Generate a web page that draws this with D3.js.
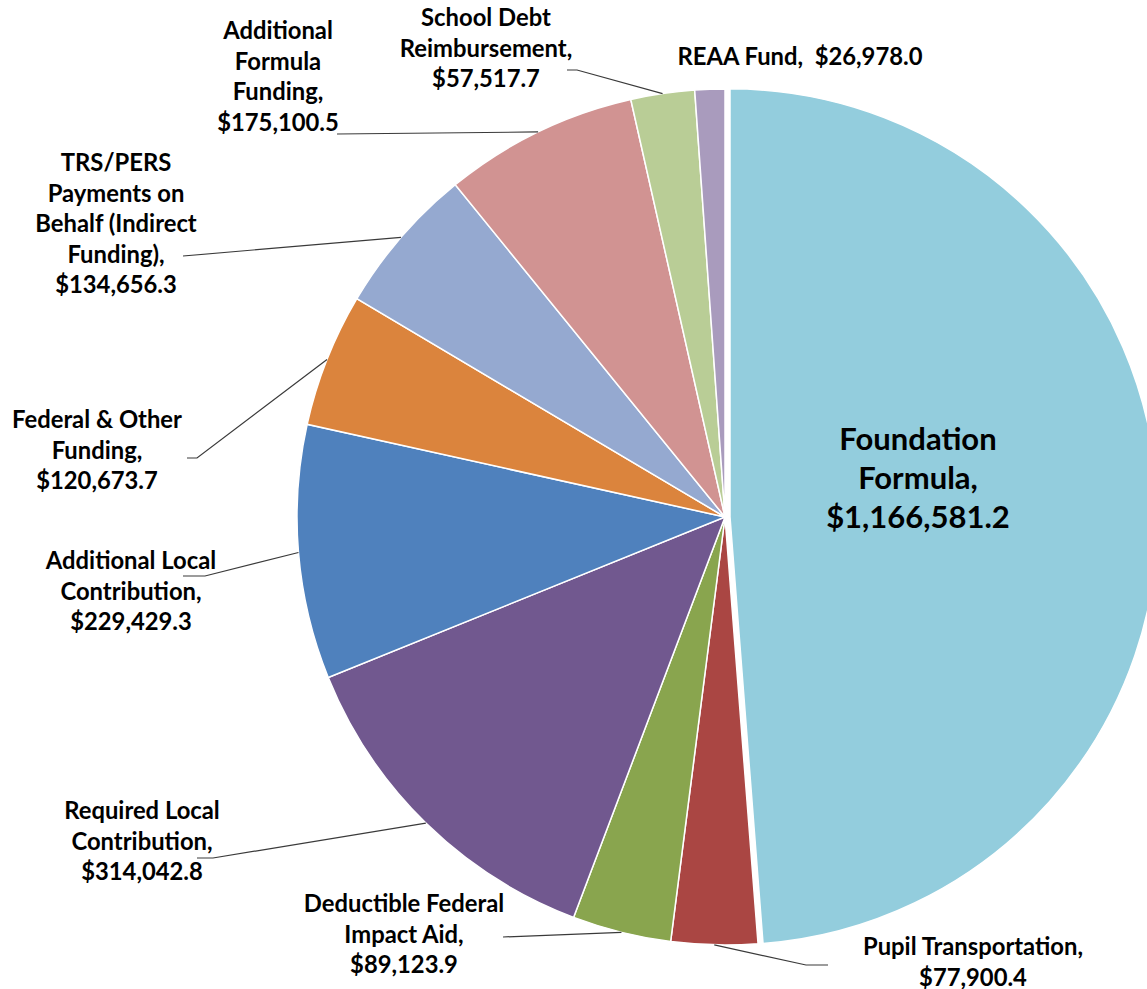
<!DOCTYPE html>
<html>
<head>
<meta charset="utf-8">
<title>Funding Pie Chart</title>
<script src="https://d3js.org/d3.v7.min.js"></script>
<style>
  body { margin: 0; background: #fff; }
  text { font-family: Lato, "Open Sans", sans-serif; font-weight: bold; fill: #000; }
</style>
</head>
<body>
<div id="chart"></div>
<script>
// data (thousands of $)
var categories = ["Foundation Formula", "Pupil Transportation", "Deductible Federal Impact Aid",
  "Required Local Contribution", "Additional Local Contribution", "Federal & Other Funding",
  "TRS/PERS Payments on Behalf (Indirect Funding)", "Additional Formula Funding",
  "School Debt Reimbursement", "REAA Fund"];
var values = [1166581.2, 77900.4, 89123.9, 314042.8, 229429.3, 120673.7, 134656.3, 175100.5, 57517.7, 26978.0];
var colors = ["#93cddd", "#aa4643", "#89a54e", "#71588f", "#4f81bd", "#db843d", "#95a9d0", "#d19392", "#b9cd96", "#a99bbd"];

// how each name wraps in its label
var nameLines = [
  ["Foundation", "Formula,"],
  ["Pupil Transportation,"],
  ["Deductible Federal", "Impact Aid,"],
  ["Required Local", "Contribution,"],
  ["Additional Local", "Contribution,"],
  ["Federal & Other", "Funding,"],
  ["TRS/PERS", "Payments on", "Behalf (Indirect", "Funding),"],
  ["Additional", "Formula", "Funding,"],
  ["School Debt", "Reimbursement,"],
  ["REAA Fund,"]
];

var W = 1147, H = 989;
var cx = 725, cy = 517, r = 428;
var explode = 5;

// label placement + leader start points
var labelPos = [
  {x: 918, y: 450, size: 31, lh: 39, lead: null},
  {x: 973, y: 955, lead: [[828, 965], [806, 965]]},
  {x: 404, y: 912, lead: [[503, 937]]},
  {x: 142, y: 819, lead: [[197, 858], [213, 858]]},
  {x: 131, y: 569, lead: [[183, 576], [205, 576]]},
  {x: 97, y: 428, lead: [[187, 458], [197, 458]]},
  {x: 116, y: 171, lead: [[183, 256]]},
  {x: 278, y: 39, lead: [[337, 134]]},
  {x: 486, y: 26, lead: [[567, 70], [577, 70]]},
  {x: 800, y: 65, lead: null, oneLine: true}
];

var fmt = d3.format(",.1f");

var svg = d3.select("#chart").append("svg")
  .attr("width", W)
  .attr("height", H);

var g = svg.append("g").attr("transform", "translate(" + cx + "," + cy + ")");

var pie = d3.pie().sort(null).value(function(d) { return d; });
var arcs = pie(values);
var arc = d3.arc().innerRadius(0).outerRadius(r);

g.selectAll("path")
  .data(arcs)
  .enter().append("path")
    .attr("d", arc)
    .attr("fill", function(d, i) { return colors[i]; })
    .attr("stroke", "#fff")
    .attr("stroke-width", 1.5)
    .attr("transform", function(d, i) {
      if (i != 0) return null;
      var a = (d.startAngle + d.endAngle) / 2;
      return "translate(" + (explode * Math.sin(a)) + "," + (-explode * Math.cos(a)) + ")";
    });

// leader lines
arcs.forEach(function(d, i) {
  var p = labelPos[i];
  if (!p.lead) return;
  var a = (d.startAngle + d.endAngle) / 2;
  var pts = p.lead.concat([[cx + r * Math.sin(a), cy - r * Math.cos(a)]]);
  svg.append("path")
    .attr("d", d3.line()(pts))
    .attr("fill", "none")
    .attr("stroke", "#3a3a3a")
    .attr("stroke-width", 1.2);
});

// labels
arcs.forEach(function(d, i) {
  var p = labelPos[i];
  var size = p.size || 23.8;
  var lh = p.lh || 30.5;
  var lines = p.oneLine
    ? [nameLines[i][0] + "  $" + fmt(values[i])]
    : nameLines[i].concat(["$" + fmt(values[i])]);
  var t = svg.append("text")
    .attr("text-anchor", "middle")
    .attr("font-size", size)
    .style("white-space", "pre");
  lines.forEach(function(s, k) {
    t.append("tspan")
      .attr("x", p.x)
      .attr("y", p.y + k * lh)
      .text(s);
  });
});
</script>
</body>
</html>
